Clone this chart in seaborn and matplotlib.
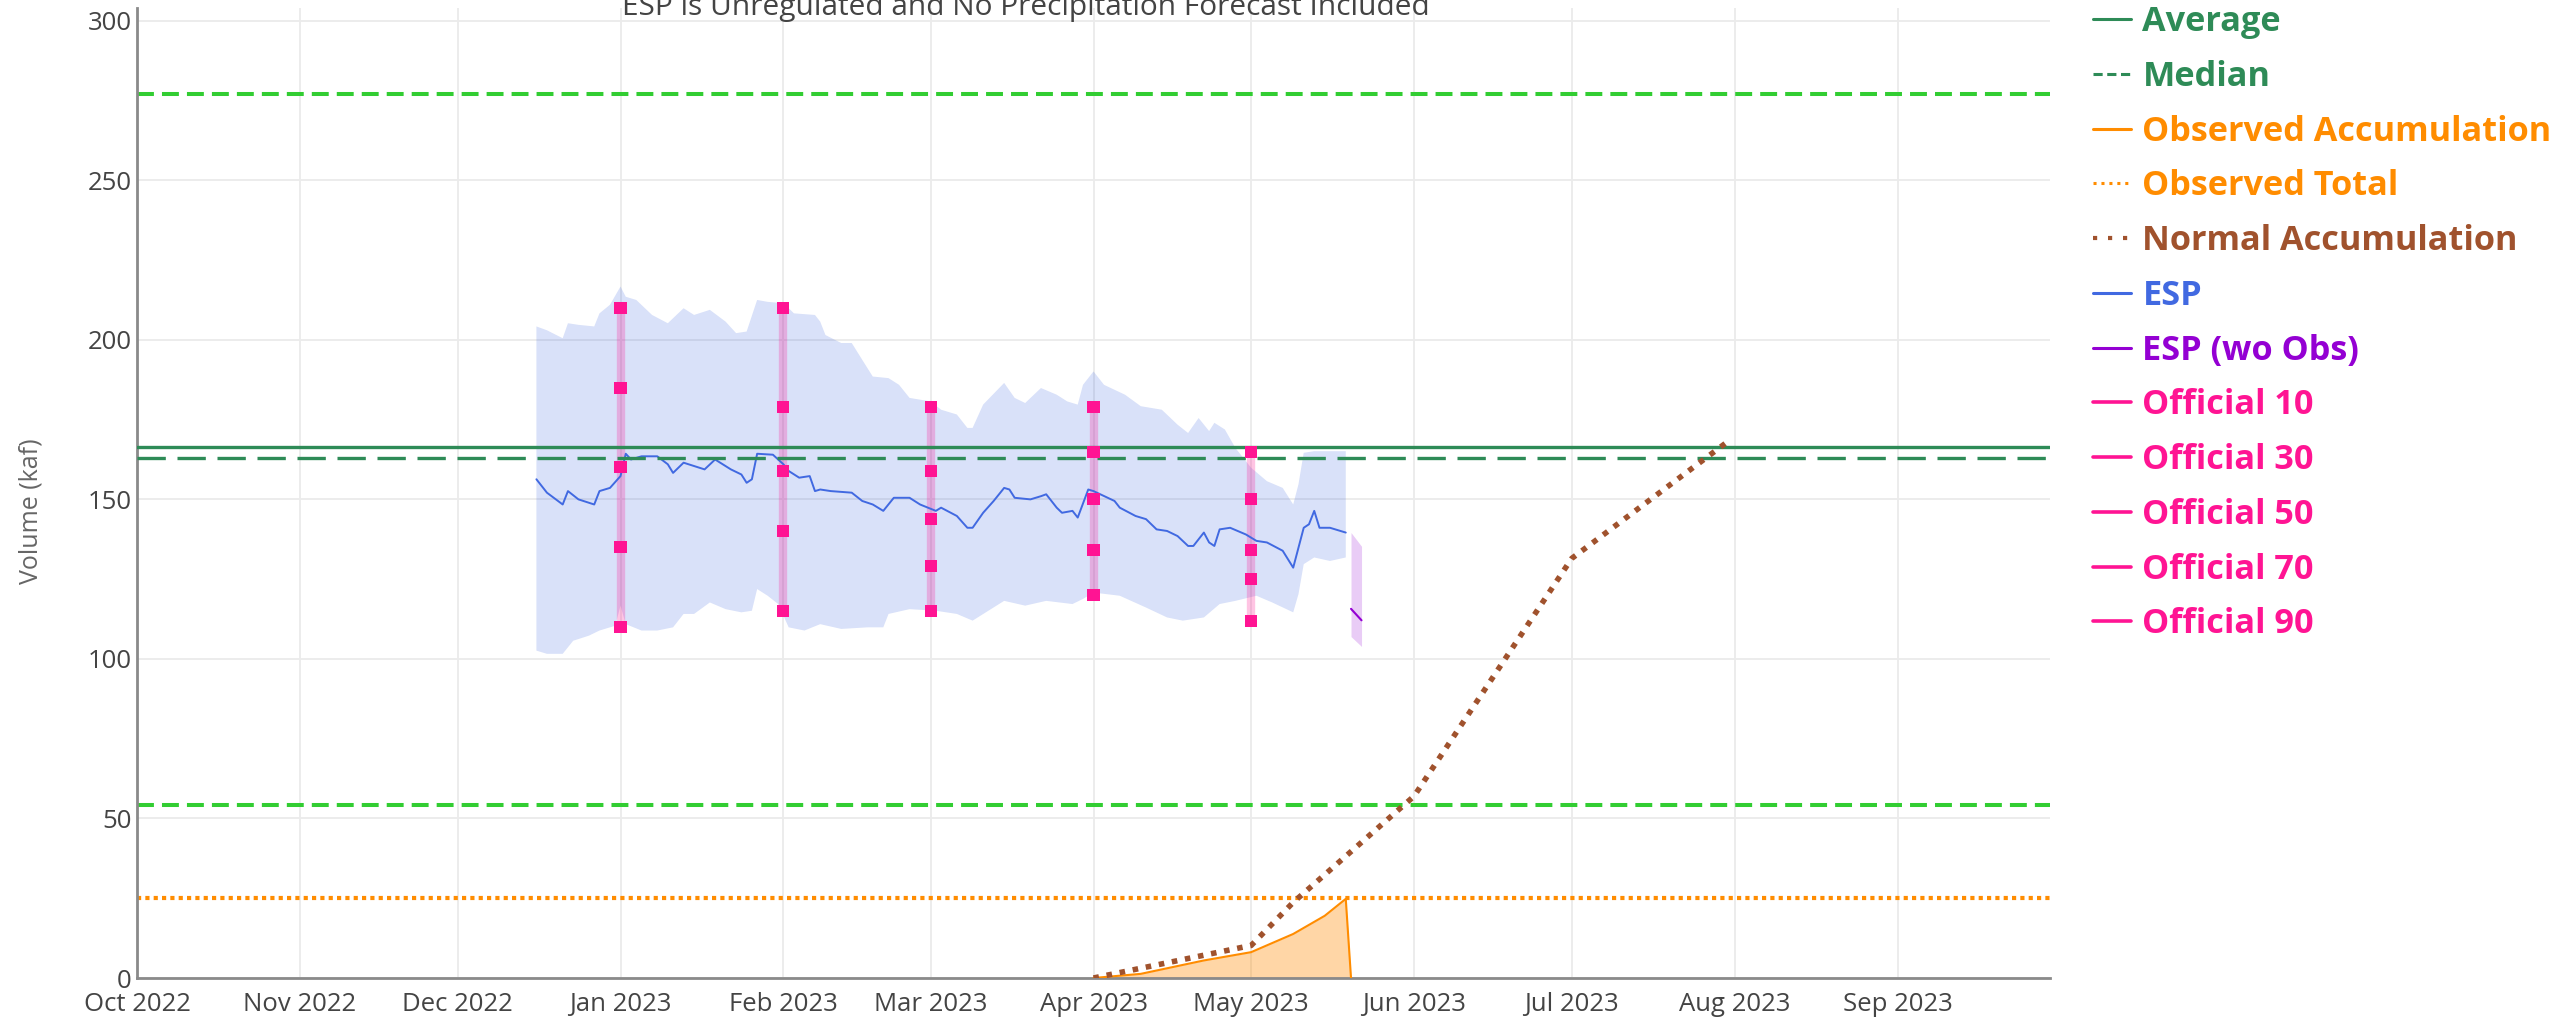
import numpy as np
import pandas as pd
import matplotlib
matplotlib.use("Agg")
import matplotlib.pyplot as plt
import matplotlib.dates as mdates
from matplotlib.lines import Line2D
import seaborn as sns

# ---------------- data ----------------
title_text = "ESP is Unregulated and No Precipitation Forecast Included"
y_label = "Volume (kaf)"

average_val = 166.5
median_val = 163.0
max_val = 277.0
min_val = 54.3
observed_total = 25.0

esp_dates = ["2022-12-16","2022-12-18","2022-12-21","2022-12-22","2022-12-24","2022-12-27","2022-12-28","2022-12-30",
             "2023-01-01","2023-01-02","2023-01-03","2023-01-05","2023-01-08","2023-01-10","2023-01-11","2023-01-13",
             "2023-01-17","2023-01-19","2023-01-22","2023-01-24","2023-01-25","2023-01-26","2023-01-27","2023-01-30",
             "2023-02-01","2023-02-02","2023-02-04","2023-02-06","2023-02-07","2023-02-08","2023-02-10","2023-02-14",
             "2023-02-16","2023-02-18","2023-02-20","2023-02-22","2023-02-25","2023-02-27",
             "2023-03-02","2023-03-03","2023-03-06","2023-03-08","2023-03-09","2023-03-11","2023-03-13","2023-03-15",
             "2023-03-16","2023-03-17","2023-03-20","2023-03-22","2023-03-23","2023-03-25","2023-03-26","2023-03-28",
             "2023-03-29","2023-03-31","2023-04-01","2023-04-05","2023-04-06","2023-04-09","2023-04-11","2023-04-13",
             "2023-04-15","2023-04-17","2023-04-19","2023-04-20","2023-04-22","2023-04-23","2023-04-24","2023-04-25",
             "2023-04-27","2023-04-30","2023-05-02","2023-05-04","2023-05-07","2023-05-09","2023-05-11","2023-05-12",
             "2023-05-13","2023-05-14","2023-05-16","2023-05-19"]
esp_vals = [156.3,152.1,148.4,152.6,150.0,148.4,152.6,153.6,
            157.3,164.3,162.5,163.5,163.5,161.0,158.3,161.5,
            159.4,162.5,159.4,157.8,155.2,156.3,164.3,164.0,
            161.0,158.9,156.8,157.3,152.6,153.1,152.6,152.1,
            149.5,148.4,146.4,150.5,150.5,148.4,
            146.4,147.4,144.8,141.1,141.1,145.8,149.5,153.6,
            153.1,150.5,150.0,151.0,151.6,147.4,145.8,146.4,
            144.3,153.1,152.6,149.5,147.4,144.8,143.8,140.6,
            140.1,138.5,135.4,135.4,139.6,136.5,135.4,140.6,
            141.1,139.0,137.0,136.5,133.9,128.6,141.1,142.2,
            146.4,141.1,141.1,139.6]

esp_upper_dates = ["2022-12-16","2022-12-18","2022-12-21","2022-12-22","2022-12-24","2022-12-27","2022-12-28","2022-12-30",
                   "2023-01-01","2023-01-02","2023-01-04","2023-01-07","2023-01-10","2023-01-13","2023-01-15","2023-01-18",
                   "2023-01-21","2023-01-23","2023-01-25","2023-01-27","2023-01-29","2023-02-01",
                   "2023-02-03","2023-02-07","2023-02-08","2023-02-09","2023-02-12","2023-02-14",
                   "2023-02-17","2023-02-18","2023-02-21","2023-02-23","2023-02-25",
                   "2023-03-01","2023-03-03","2023-03-06","2023-03-08","2023-03-09",
                   "2023-03-11","2023-03-15","2023-03-17","2023-03-19","2023-03-22","2023-03-25","2023-03-27","2023-03-29","2023-03-30",
                   "2023-04-01","2023-04-03","2023-04-07","2023-04-10","2023-04-14","2023-04-17","2023-04-19","2023-04-21",
                   "2023-04-23","2023-04-24","2023-04-26","2023-04-28",
                   "2023-05-01","2023-05-04","2023-05-07","2023-05-09","2023-05-10","2023-05-11","2023-05-13","2023-05-19"]
esp_upper_vals = [204.2,203.0,200.5,205.2,204.7,204.2,208.3,211.0,
                  216.7,213.5,212.5,207.8,205.2,209.9,207.8,209.4,
                  205.7,202.1,202.6,212.5,211.9,211.5,
                  208.3,207.8,205.7,201.5,199.0,199.0,
                  191.1,188.5,188.0,185.9,181.8,
                  180.7,178.1,176.6,172.4,172.4,
                  179.7,186.5,181.8,180.2,184.9,182.8,180.7,179.7,185.9,
                  190.1,185.9,182.8,179.2,178.1,173.4,170.8,175.5,
                  171.4,174.0,171.9,166.1,
                  159.9,155.7,153.6,148.4,154.7,164.6,165.1,165.1]

esp_lower_dates = ["2022-12-16","2022-12-18","2022-12-21","2022-12-23","2022-12-26","2022-12-28","2022-12-31","2023-01-01",
                   "2023-01-02","2023-01-05","2023-01-08","2023-01-11","2023-01-13","2023-01-15","2023-01-18","2023-01-21",
                   "2023-01-24","2023-01-26","2023-01-27","2023-01-29","2023-01-31",
                   "2023-02-02","2023-02-05","2023-02-08","2023-02-12","2023-02-17","2023-02-20","2023-02-21","2023-02-25",
                   "2023-03-02","2023-03-06","2023-03-09","2023-03-12","2023-03-15","2023-03-19","2023-03-23","2023-03-28","2023-03-30",
                   "2023-04-01","2023-04-06","2023-04-11","2023-04-15","2023-04-18","2023-04-22","2023-04-25","2023-04-28",
                   "2023-05-02","2023-05-05","2023-05-09","2023-05-10","2023-05-11","2023-05-13","2023-05-16","2023-05-19"]
esp_lower_vals = [102.6,101.6,101.6,105.7,107.3,108.9,110.4,116.7,
                  110.9,108.9,108.9,109.9,114.1,114.1,117.7,115.6,
                  114.6,115.1,121.9,119.8,117.2,
                  109.9,108.9,110.9,109.4,109.9,109.9,114.1,115.6,
                  115.1,114.1,112.0,115.1,118.2,116.7,118.2,117.2,118.8,
                  120.8,119.8,116.1,113.0,112.0,113.0,117.2,118.2,
                  119.8,117.7,114.6,120.3,129.7,131.8,130.7,131.8]

esp_wo_dates = ["2023-05-20", "2023-05-22"]
esp_wo_vals = [115.7, 112.1]
esp_wo_upper = [139.6, 135.3]
esp_wo_lower = [107.0, 103.9]

official_dates = ["2023-01-01", "2023-02-01", "2023-03-01", "2023-04-01", "2023-05-01"]
official_10 = [210, 210, 179, 179, 165]
official_30 = [185, 179, 159, 165, 150]
official_50 = [160, 159, 144, 150, 134]
official_70 = [135, 140, 129, 134, 125]
official_90 = [110, 115, 115, 120, 112]

obs_acc_dates = ["2023-04-01","2023-04-10","2023-04-22","2023-05-01","2023-05-09","2023-05-15","2023-05-19","2023-05-20"]
obs_acc_vals = [0, 1.3, 5.5, 8.1, 13.8, 19.5, 24.8, 0]

normal_dates = ["2023-04-01","2023-05-01","2023-05-09","2023-06-01","2023-07-01","2023-07-31"]
normal_vals = [0, 10.2, 23.7, 57.0, 131.5, 168.5]

month_ticks = pd.date_range("2022-10-01", "2023-09-01", freq="MS")
y_ticks = [0, 50, 100, 150, 200, 250, 300]

# ---------------- style ----------------
sns.set_theme(style="white")
plt.rcParams['font.family'] = ['Open Sans', 'DejaVu Sans']

C_GREEN = "#2E8B57"
C_LIME = "#32CD32"
C_ORANGE = "#FF8C00"
C_BROWN = "#A0522D"
C_BLUE = "#4169E1"
C_VIOLET = "#9400D3"
C_PINK = "#FF1493"

W, H = 2560, 1024
fig = plt.figure(figsize=(W / 100, H / 100), dpi=100)
ax = fig.add_axes([137 / W, 1 - 978 / H, (2050 - 137) / W, (978 - 8) / H])

to_dt = pd.to_datetime

# bands
ud = to_dt(esp_upper_dates); ld = to_dt(esp_lower_dates)
ax.fill(np.concatenate([ud.values, ld.values[::-1]]),
        np.concatenate([esp_upper_vals, esp_lower_vals[::-1]]),
        color=C_BLUE, alpha=0.2, lw=0, zorder=1)
wd = to_dt(esp_wo_dates)
ax.fill_between(wd, esp_wo_lower, esp_wo_upper, color=C_VIOLET, alpha=0.2, lw=0, zorder=1)

# horizontal reference lines
ax.axhline(max_val, color=C_LIME, lw=2.9, linestyle=(0, (4.2, 2.0)), zorder=2)
ax.axhline(min_val, color=C_LIME, lw=2.9, linestyle=(0, (4.2, 2.0)), zorder=2)
ax.axhline(observed_total, color=C_ORANGE, lw=3.0, linestyle=(0, (1, 1)), zorder=2)

# official bars
od = to_dt(official_dates)
ax.vlines(od, official_90, official_10, color=C_PINK, alpha=0.25, lw=6, zorder=3)

# ESP line
sns.lineplot(x=to_dt(esp_dates), y=esp_vals, ax=ax, color=C_BLUE, lw=1.4, zorder=4)
sns.lineplot(x=wd, y=esp_wo_vals, ax=ax, color=C_VIOLET, lw=1.5, zorder=4)

ax.axhline(average_val, color=C_GREEN, lw=2.4, zorder=5)
ax.axhline(median_val, color=C_GREEN, lw=2.4, linestyle=(0, (8.5, 3.5)), zorder=5)

# official markers
off_df = pd.DataFrame({
    "date": np.tile(od.values, 5),
    "value": official_10 + official_30 + official_50 + official_70 + official_90,
})
sns.scatterplot(data=off_df, x="date", y="value", ax=ax, marker="s", s=75,
                color=C_PINK, edgecolor="none", zorder=6, legend=False)

# observed accumulation
oad = to_dt(obs_acc_dates)
ax.fill_between(oad, 0, obs_acc_vals, color=C_ORANGE, alpha=0.35, lw=0, zorder=2)
sns.lineplot(x=oad, y=obs_acc_vals, ax=ax, color=C_ORANGE, lw=1.5, zorder=3, sort=False)

# normal accumulation
sns.lineplot(x=to_dt(normal_dates), y=normal_vals, ax=ax, color=C_BROWN, lw=4.0,
             linestyle=(0, (1, 1.4)), zorder=7)

# axes
ax.set_xlim(pd.Timestamp("2022-10-01"), pd.Timestamp("2023-09-30"))
ax.set_ylim(0, 304)
ax.set_xticks(month_ticks)
ax.xaxis.set_major_formatter(mdates.DateFormatter("%b %Y"))
ax.set_yticks(y_ticks)
ax.grid(True, color="#ebebeb", lw=1.3)
ax.set_axisbelow(True)
for s in ["top", "right"]:
    ax.spines[s].set_visible(False)
for s in ["left", "bottom"]:
    ax.spines[s].set_color("#8a8a8a")
    ax.spines[s].set_linewidth(2)
ax.tick_params(axis="both", length=0, labelsize=18.5, labelcolor="#444444")
ax.tick_params(axis="x", pad=10)
ax.tick_params(axis="y", pad=4)
ax.set_xlabel("")
ax.set_ylabel(y_label, fontsize=18, color="#666666")
ax.yaxis.set_label_coords((44 - 137) / (2050 - 137), (978 - 511) / 970)

fig.text(1026 / W, 1 - 15 / H, title_text, ha="center", va="baseline",
         fontsize=21.5, color="#444444")

# legend
handles = [
    Line2D([], [], color=C_GREEN, lw=2.2),
    Line2D([], [], color=C_GREEN, lw=2.2, linestyle=(0, (3, 1.5))),
    Line2D([], [], color=C_ORANGE, lw=2.2),
    Line2D([], [], color=C_ORANGE, lw=2.2, linestyle=(0, (1, 1.6))),
    Line2D([], [], color=C_BROWN, lw=3.0, linestyle=(0, (1, 2.6))),
    Line2D([], [], color=C_BLUE, lw=2.2),
    Line2D([], [], color=C_VIOLET, lw=2.2),
    Line2D([], [], color=C_PINK, lw=2.6),
    Line2D([], [], color=C_PINK, lw=2.6),
    Line2D([], [], color=C_PINK, lw=2.6),
    Line2D([], [], color=C_PINK, lw=2.6),
    Line2D([], [], color=C_PINK, lw=2.6),
]
labels = ["Average", "Median", "Observed Accumulation", "Observed Total", "Normal Accumulation",
          "ESP", "ESP (wo Obs)", "Official 10", "Official 30", "Official 50", "Official 70", "Official 90"]
label_colors = [C_GREEN, C_GREEN, C_ORANGE, C_ORANGE, C_BROWN, C_BLUE, C_VIOLET,
                C_PINK, C_PINK, C_PINK, C_PINK, C_PINK]
fig.legend(handles, labels, loc="upper left", bbox_to_anchor=(2093 / W, 1 - 5 / H),
           frameon=False, prop={"family": "Open Sans", "weight": "bold", "size": 24.7},
           handlelength=1.12, handletextpad=0.32, labelspacing=0.605,
           borderpad=0, borderaxespad=0, labelcolor=label_colors)

fig.savefig("out.png", dpi=100)
